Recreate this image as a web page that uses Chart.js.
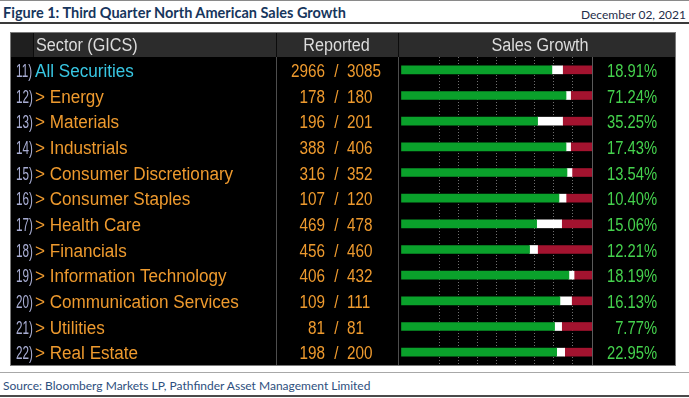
<!DOCTYPE html>
<html>
<head>
<meta charset="utf-8">
<title>Third Quarter North American Sales Growth</title>
<script src="https://cdn.jsdelivr.net/npm/chart.js@4.4.0/dist/chart.umd.min.js"></script>
<style>
  html, body { margin: 0; padding: 0; background: #fff; }
  body { width: 689px; height: 398px; position: relative; overflow: hidden; font-family: Lato, 'Liberation Sans', sans-serif; }
  .rule { position: absolute; left: 0; width: 689px; }
  #title { position: absolute; left: 3px; top: 6px; font-weight: bold; font-size: 14.5px; line-height: 1; color: #17365d; white-space: nowrap; }
  #date { position: absolute; right: 3px; top: 9px; font-size: 12px; line-height: 1; color: #1f2d4a; white-space: nowrap; }
  #source { position: absolute; left: 3px; top: 380px; font-size: 12px; line-height: 1; color: #2e4f7e; white-space: nowrap; }
  #tableWrap { position: absolute; left: 10px; top: 32px; width: 666px; height: 334px; }
</style>
</head>
<body>
<div class="rule" style="top:0; height:1px; background:#8a8a8a;"></div>
<div id="title">Figure 1: Third Quarter North American Sales Growth</div>
<div id="date">December 02, 2021</div>
<div class="rule" style="top:22px; height:2px; background:#3a3a3a;"></div>
<div id="tableWrap"><canvas id="growthTable" width="666" height="334"></canvas></div>
<div class="rule" style="top:372px; height:1px; background:#a8a8a8;"></div>
<div id="source">Source: Bloomberg Markets LP, Pathfinder Asset Management Limited</div>
<div class="rule" style="top:395px; height:2px; background:#4a4a4a;"></div>

<script>
// Row data
const rowIds = ['11)', '12)', '13)', '14)', '15)', '16)', '17)', '18)', '19)', '20)', '21)', '22)'];
const sectors = ['All Securities', 'Energy', 'Materials', 'Industrials', 'Consumer Discretionary',
  'Consumer Staples', 'Health Care', 'Financials', 'Information Technology',
  'Communication Services', 'Utilities', 'Real Estate'];
const reported = [2966, 178, 196, 388, 316, 107, 469, 456, 406, 109, 81, 198];
const coverage = [3085, 180, 201, 406, 352, 120, 478, 460, 432, 111, 81, 200];

// Share of reported companies (percent of bar): beat / in line / miss
const beatPct = [79.0, 86.4, 71.5, 86.4, 86.9, 82.7, 71.0, 67.3, 87.9, 83.2, 80.4, 81.5];
const inlinePct = [5.6, 2.4, 13.1, 2.4, 2.6, 3.7, 13.1, 4.2, 2.7, 6.1, 3.7, 4.2];
const missPct = [15.4, 11.2, 15.4, 11.2, 10.5, 13.6, 15.9, 28.5, 9.4, 10.7, 15.9, 14.3];

// Sales growth, percent
const growth = [18.91, 71.24, 35.25, 17.43, 13.54, 10.40, 15.06, 12.21, 18.19, 16.13, 7.77, 22.95];

const headers = ['Sector (GICS)', 'Reported', 'Sales Growth'];
const gridTicks = [20, 30, 40, 50, 60, 70, 80, 90];

// column positions inside the canvas
const COL = {
  idx: 6,
  sectorCell: 23,
  name: 25,
  reportedCell: 266,
  reportedLeftNum: 315,
  slash: 326.5,
  reportedRightNum: 337,
  growthCell: 388,
  valueRight: 647,
  valueBoxRight: 665
};
const FONT = "'Liberation Sans', Arial, sans-serif";

function drawText(ctx, text, x, y, align, size, sx, color) {
  ctx.save();
  ctx.font = size + 'px ' + FONT;
  ctx.fillStyle = color;
  ctx.textBaseline = 'alphabetic';
  const w = ctx.measureText(text).width * sx;
  let left = x;
  if (align === 'center') left = x - w / 2;
  if (align === 'right') left = x - w;
  ctx.translate(left, y);
  ctx.scale(sx, 1);
  ctx.fillText(text, 0, 0);
  ctx.restore();
}

function vline(ctx, x, y0, y1, color) {
  ctx.strokeStyle = color;
  ctx.lineWidth = 1;
  ctx.beginPath();
  ctx.moveTo(x + 0.5, y0);
  ctx.lineTo(x + 0.5, y1);
  ctx.stroke();
}

const tablePlugin = {
  id: 'terminalTable',
  beforeDraw(chart) {
    const { ctx, width, height, chartArea } = chart;
    const top = chartArea.top;
    ctx.save();
    ctx.fillStyle = '#000';
    ctx.fillRect(0, 0, width, height);
    // header cells
    ctx.fillStyle = '#2c2c2c';
    ctx.fillRect(0, 0, width, top);
    ctx.fillStyle = '#1f1f1f';
    ctx.fillRect(0, 0, COL.sectorCell, top);
    [COL.sectorCell, COL.reportedCell, COL.growthCell].forEach(x => vline(ctx, x, 0, top, '#0c0c0c'));
    // body separators
    vline(ctx, COL.reportedCell, top, chartArea.bottom, '#4d4d4d');
    vline(ctx, COL.growthCell, top, chartArea.bottom, '#4d4d4d');
    ctx.restore();
  },
  afterDraw(chart) {
    const { ctx, width, height, chartArea, scales } = chart;
    const top = chartArea.top;
    ctx.save();
    // value box
    vline(ctx, Math.round(chartArea.right), top, chartArea.bottom, '#5a5a5a');
    // outer frame
    ctx.strokeStyle = '#7a7a7a';
    ctx.lineWidth = 1;
    ctx.strokeRect(0.5, 0.5, width - 1, height - 1);

    // header text
    const hy = top / 2 + 6.5;
    drawText(ctx, headers[0], COL.name + 1, hy, 'left', 18, 0.9, '#dcdcdc');
    drawText(ctx, headers[1], COL.slash, hy, 'center', 18, 0.9, '#dcdcdc');
    drawText(ctx, headers[2], 530, hy, 'center', 18, 0.9, '#dcdcdc');

    // rows
    sectors.forEach((name, i) => {
      const y = scales.y.getPixelForValue(i) + 7;
      drawText(ctx, rowIds[i], COL.idx, y, 'left', 18, 0.65, '#a9aed4');
      if (i === 0) {
        drawText(ctx, name, COL.name, y, 'left', 18, 0.95, '#38c6e2');
      } else {
        drawText(ctx, '> ' + name, COL.name, y, 'left', 18, 0.95, '#ee9a2e');
      }
      drawText(ctx, String(reported[i]), COL.reportedLeftNum, y, 'right', 18, 0.85, '#ee9a2e');
      drawText(ctx, '/', COL.slash, y, 'center', 18, 0.85, '#ee9a2e');
      drawText(ctx, String(coverage[i]), COL.reportedRightNum, y, 'left', 18, 0.85, '#ee9a2e');
      drawText(ctx, growth[i].toFixed(2) + '%', COL.valueRight, y, 'right', 18, 0.82, '#45d24d');
    });
    ctx.restore();
  }
};

new Chart(document.getElementById('growthTable'), {
  type: 'bar',
  data: {
    labels: sectors,
    datasets: [
      { label: 'Beat', data: beatPct, backgroundColor: '#0aa12b' },
      { label: 'In line', data: inlinePct, backgroundColor: '#ffffff' },
      { label: 'Miss', data: missPct, backgroundColor: '#a3132f' }
    ]
  },
  options: {
    indexAxis: 'y',
    responsive: false,
    animation: false,
    layout: { padding: { left: 391, right: 84, top: 25, bottom: 1 } },
    datasets: { bar: { barThickness: 8, borderWidth: 0 } },
    scales: {
      x: {
        stacked: true,
        min: 0,
        max: 100,
        ticks: { display: false, stepSize: 10 },
        grid: {
          drawTicks: false,
          color: c => (c.tick && gridTicks.includes(c.tick.value)) ? '#707070' : 'rgba(0,0,0,0)'
        },
        border: { display: false, dash: [1, 2] }
      },
      y: { stacked: true, display: false }
    },
    plugins: {
      legend: { display: false },
      tooltip: { enabled: false }
    }
  },
  plugins: [tablePlugin]
});
</script>
</body>
</html>
